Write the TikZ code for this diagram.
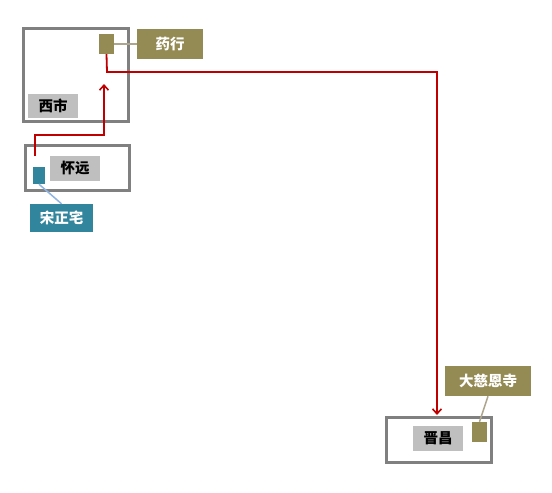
\documentclass[tikz,border=0pt]{standalone}
\usepackage{fontspec}
\setmainfont{Noto Sans CJK SC}
\usetikzlibrary{arrows.meta}
\definecolor{wardgray}{HTML}{808080}
\definecolor{namegray}{HTML}{BFBFBF}
\definecolor{shopolive}{HTML}{948A54}
\definecolor{homeblue}{HTML}{31859C}
\definecolor{routered}{HTML}{C00000}
\definecolor{tieolive}{HTML}{ADA68C}
\definecolor{tieblue}{HTML}{8DB4E2}
\tikzset{
  ward/.style={draw=wardgray, line width=2.6pt, fill=white, inner sep=0pt},
  wardname/.style={fill=namegray, text=black, font=\bfseries\fontsize{14.5}{16}\selectfont, inner sep=0pt},
  tag/.style={text=white, font=\bfseries\fontsize{14.5}{16}\selectfont, inner sep=0pt},
  spot/.style={inner sep=0pt},
  route/.style={draw=routered, line width=1.8pt, -{Straight Barb[length=5pt,width=9pt,line width=1.6pt]}},
}
\begin{document}
\begin{tikzpicture}[x=1pt,y=-1pt]
  \useasboundingbox[fill=white] (0,0) rectangle (552,493);
  % wards
  \node[ward, minimum width=105pt, minimum height=93pt] (xishi) at (76,75) {};
  \node[ward, minimum width=104pt, minimum height=45pt] (huaiyuan) at (77.5,168) {};
  \node[ward, minimum width=105pt, minimum height=45pt] (jinchang) at (439,440) {};
  \node[wardname, minimum width=50pt, minimum height=24pt] (xishiname) at (53,106) {西市};
  \node[wardname, minimum width=50pt, minimum height=25pt] (huaiyuanname) at (75,168.5) {怀远};
  \node[wardname, minimum width=50pt, minimum height=25pt] (jinchangname) at (438,438.5) {晋昌};
  % places
  \node[spot, fill=shopolive, minimum width=15pt, minimum height=20pt] (yaohang) at (106.5,44) {};
  \node[spot, fill=homeblue, minimum width=12pt, minimum height=17pt] (songzhai) at (39,175.5) {};
  \node[spot, fill=shopolive, minimum width=15pt, minimum height=20pt] (cien) at (479.5,432) {};
  \node[tag, fill=shopolive, minimum width=66pt, minimum height=30pt] (yaohangtag) at (170,44) {药行};
  \node[tag, fill=homeblue, minimum width=63pt, minimum height=28pt] (songzhaitag) at (61.5,218) {宋正宅};
  \node[tag, fill=shopolive, minimum width=86pt, minimum height=30pt] (cientag) at (488,381) {大慈恩寺};
  \draw[tieolive, line width=1.5pt] (yaohang.east) -- (yaohangtag.west);
  \draw[tieblue, line width=1.5pt] (songzhai.south) -- (songzhaitag.north);
  \draw[tieolive, line width=1.5pt] (cien.north) -- (cientag.south);
  % routes
  \coordinate (leave) at (35,156);
  \coordinate (turn) at (35,135);
  \coordinate (xishiin) at (104,84);
  \coordinate (bend) at (107,72);
  \coordinate (jinchangin) at (437,415);
  \draw[route] (leave) -- (turn) -| (xishiin);
  \draw[route] (yaohang.south) -- (bend) -| (jinchangin);
\end{tikzpicture}
\end{document}
